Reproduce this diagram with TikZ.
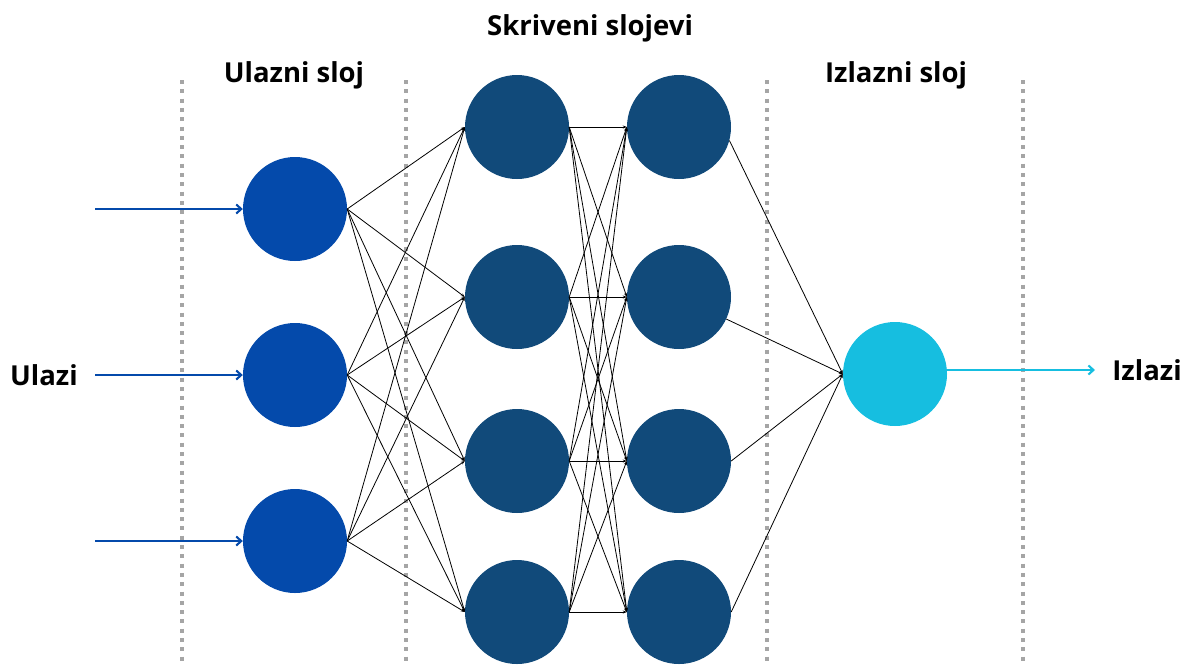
\documentclass[tikz,border=0pt]{standalone}
\usepackage{fontspec}
\setmainfont{Open Sans}
\usetikzlibrary{arrows.meta}
\definecolor{inblue}{RGB}{4,74,171}
\definecolor{hidblue}{RGB}{17,74,122}
\definecolor{outcyan}{RGB}{22,190,224}
\definecolor{dotgray}{RGB}{165,165,165}
\begin{document}
\begin{tikzpicture}[x=1pt,y=-1pt,
  neuron/.style={circle,minimum size=104pt,inner sep=0pt,draw=none},
  inneuron/.style={neuron,fill=inblue},
  hidneuron/.style={neuron,fill=hidblue},
  outneuron/.style={neuron,fill=outcyan},
  conn/.style={black,line width=0.8pt,-{Stealth[length=4pt,width=3pt]}},
  inarrow/.style={inblue,line width=2.1pt,-{Straight Barb[length=5pt,width=9pt]}},
  outarrow/.style={outcyan,line width=2.1pt,-{Straight Barb[length=5pt,width=9pt]}},
  sep/.style={dotgray,line width=4pt,dash pattern=on 4pt off 5.3pt},
  label/.style={font=\fontsize{27.5}{30}\selectfont\bfseries,text=black,inner sep=0pt}
]
\useasboundingbox (0,0) rectangle (1185,665);
% separators
\coordinate (s1t) at (182,80); \coordinate (s1b) at (182,665);
\coordinate (s2t) at (406,80); \coordinate (s2b) at (406,665);
\coordinate (s3t) at (767,80); \coordinate (s3b) at (767,665);
\coordinate (s4t) at (1023,80); \coordinate (s4b) at (1023,665);
\foreach \s in {1,2,3,4} \draw[sep] (s\s t) -- (s\s b);
% labels
\node[label] (lhid) at (590,28) {Skriveni slojevi};
\node[label] (lin) at (294,75) {Ulazni sloj};
\node[label] (lout) at (896,75) {Izlazni sloj};
\node[label] (lulazi) at (44,375) {Ulazi};
\node[label] (lizlazi) at (1147,370) {Izlazi};
% neurons
\node[inneuron] (i1) at (295,209) {};
\node[inneuron] (i2) at (295,375) {};
\node[inneuron] (i3) at (295,541) {};
\node[hidneuron] (a1) at (517,127) {};
\node[hidneuron] (a2) at (517,297) {};
\node[hidneuron] (a3) at (517,461) {};
\node[hidneuron] (a4) at (517,612) {};
\node[hidneuron] (b1) at (679,127) {};
\node[hidneuron] (b2) at (679,297) {};
\node[hidneuron] (b3) at (679,461) {};
\node[hidneuron] (b4) at (679,612) {};
\node[outneuron] (o) at (895,374) {};
% input arrows
\coordinate (f1) at (95,209);
\coordinate (f2) at (95,375);
\coordinate (f3) at (95,541);
\foreach \k in {1,2,3} \draw[inarrow] (f\k) -- (i\k.west);
\coordinate (g) at (1095,370);
\draw[outarrow] (o.east |- g) -- (g);
% connections
\foreach \i in {1,2,3} \foreach \j in {1,2,3,4} \draw[conn] (i\i.east) -- (a\j.west);
\foreach \i in {1,2,3,4} \foreach \j in {1,2,3,4} \draw[conn] (a\i.east) -- (b\j.west);
\draw[conn] (b1.-15) -- (o.west);
\draw[conn] (b2.-25) -- (o.west);
\draw[conn] (b3.east) -- (o.west);
\draw[conn] (b4.east) -- (o.west);
\end{tikzpicture}
\end{document}
